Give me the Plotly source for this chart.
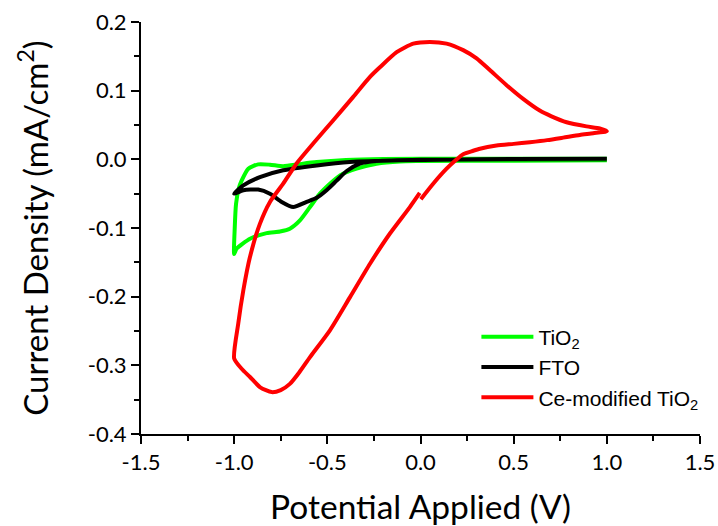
import plotly.graph_objects as go

# Cyclic voltammograms: potential (V) vs current density (mA/cm^2)
tio2_v = [1.0, 0.5, 0.0, -0.11, -0.236, -0.343, -0.432, -0.486, -0.540, -0.593,
          -0.647, -0.701, -0.754, -0.826, -0.915, -0.987, -1.0, -0.997, -0.99,
          -0.975, -0.96, -0.924, -0.871, -0.808, -0.737, -0.65, -0.557, -0.4,
          -0.2, 0.2, 1.0]
tio2_j = [-0.0015, -0.002, -0.0025, -0.003, -0.0063, -0.0136, -0.0234, -0.0355,
          -0.050, -0.0695, -0.089, -0.101, -0.105, -0.1075, -0.1156, -0.130,
          -0.138, -0.10, -0.065, -0.042, -0.031, -0.0136, -0.0073, -0.0078,
          -0.010, -0.007, -0.004, -0.001, 0.0005, 0.001, 0.001]

fto_v = [1.0, 0.5, 0.158, -0.11, -0.379, -0.557, -0.737, -0.862, -0.951, -1.0,
         -0.951, -0.871, -0.808, -0.745, -0.683, -0.611, -0.557, -0.504, -0.450,
         -0.396, -0.325, -0.236, 0.0, 0.5, 1.0]
fto_j = [0.001, 0.0005, -0.0005, -0.0015, -0.004, -0.009, -0.016, -0.026, -0.038,
         -0.050, -0.045, -0.044, -0.050, -0.062, -0.0695, -0.062, -0.056, -0.045,
         -0.031, -0.017, -0.0063, -0.0025, -0.0005, 0.0, 0.0]

ce_v = [0.002, 0.068, 0.14, 0.19, 0.229, 0.283, 0.319, 0.408, 0.50, 0.587, 0.68,
        0.766, 0.855, 0.927, 1.0, 0.962, 0.891, 0.784, 0.70, 0.64, 0.551, 0.462,
        0.372, 0.301, 0.229, 0.14, 0.05, -0.039, -0.128, -0.218, -0.271, -0.361,
        -0.468, -0.576, -0.665, -0.737, -0.808, -0.862, -0.915, -0.951, -0.978,
        -1.0, -0.96, -0.915, -0.86, -0.799, -0.75, -0.701, -0.65, -0.593, -0.486,
        -0.379, -0.271, -0.164, -0.057, -0.004]
ce_j = [-0.058, -0.0355, -0.0136, -0.001, 0.0075, 0.0125, 0.0155, 0.020, 0.0225,
        0.025, 0.028, 0.0316, 0.0355, 0.038, 0.041, 0.045, 0.048, 0.054, 0.063,
        0.071, 0.088, 0.108, 0.130, 0.147, 0.159, 0.1685, 0.171, 0.1685, 0.156,
        0.134, 0.120, 0.091, 0.057, 0.023, -0.006, -0.0355, -0.062, -0.094,
        -0.142, -0.191, -0.239, -0.290, -0.305, -0.317, -0.332, -0.339, -0.336,
        -0.327, -0.310, -0.288, -0.249, -0.201, -0.152, -0.108, -0.0695, -0.049]

x_ticks = [-1.5, -1.0, -0.5, 0.0, 0.5, 1.0, 1.5]
x_labels = ["-1.5", "-1.0", "-0.5", "0.0", "0.5", "1.0", "1.5"]
y_ticks = [-0.4, -0.3, -0.2, -0.1, 0.0, 0.1, 0.2]
y_labels = ["-0.4", "-0.3", "-0.2", "-0.1", "0.0", "0.1", "0.2"]

line_style = dict(width=4, shape="spline", smoothing=0.6)

fig = go.Figure()
fig.add_trace(go.Scatter(x=tio2_v, y=tio2_j, mode="lines", name="TiO<sub>2</sub>",
                         line=dict(color="#00ff00", **line_style)))
fig.add_trace(go.Scatter(x=fto_v, y=fto_j, mode="lines", name="FTO",
                         line=dict(color="#000000", **line_style)))
fig.add_trace(go.Scatter(x=ce_v, y=ce_j, mode="lines", name="Ce-modified TiO<sub>2</sub>",
                         line=dict(color="#ff0000", **line_style)))

axis_common = dict(
    showline=True, linecolor="black", linewidth=2, mirror=False,
    showgrid=False, zeroline=False,
    ticks="outside", ticklen=8, tickwidth=1.5, tickcolor="black",
    tickfont=dict(family="Lato", size=22, color="black"),
)

fig.update_layout(
    width=718, height=526,
    margin=dict(l=141, r=18, t=22, b=92, autoexpand=False),
    paper_bgcolor="white", plot_bgcolor="white",
    xaxis=dict(
        range=[-1.5, 1.5], tickmode="array", tickvals=x_ticks, ticktext=x_labels,
        minor=dict(tickmode="linear", tick0=-1.5, dtick=0.25, ticks="outside",
                   ticklen=5, tickwidth=1.5, tickcolor="black"),
        title=dict(text="Potential Applied (V)", standoff=26,
                   font=dict(family="Lato", size=33.5, color="black")),
        **axis_common,
    ),
    yaxis=dict(
        range=[-0.4, 0.2], tickmode="array", tickvals=y_ticks, ticktext=y_labels,
        minor=dict(tickmode="linear", tick0=-0.4, dtick=0.05, ticks="outside",
                   ticklen=5, tickwidth=1.5, tickcolor="black"),
        title=dict(text="Current Density (mA/cm<sup>2</sup>)", standoff=29,
                   font=dict(family="Lato", size=33, color="black")),
        **axis_common,
    ),
    legend=dict(
        x=0.6, y=0.285, xanchor="left", yanchor="top",
        bgcolor="rgba(0,0,0,0)", borderwidth=0,
        font=dict(family="Liberation Sans", size=21, color="black"),
        tracegroupgap=0, itemwidth=52,
    ),
)

fig.write_html("out.html")
